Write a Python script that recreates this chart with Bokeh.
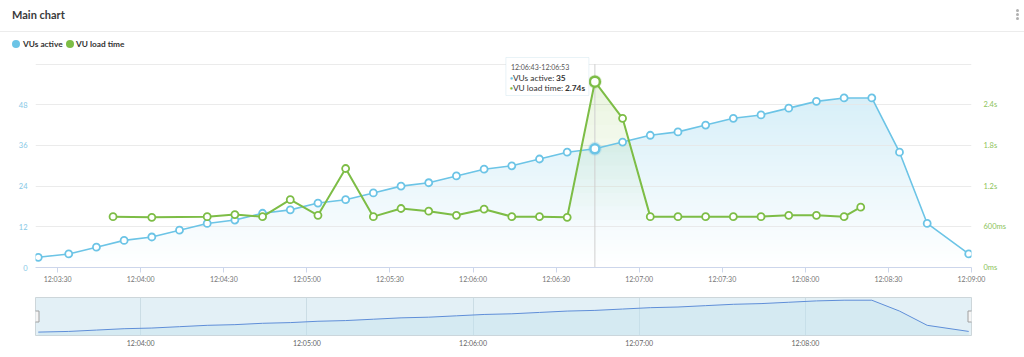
import numpy as np
import pandas as pd
from bokeh.plotting import figure
from bokeh.models import (Range1d, LinearAxis, FixedTicker, DatetimeTickFormatter,
                          Div, Label, BoxAnnotation)
from bokeh.layouts import column
from bokeh.embed import file_html
from bokeh.resources import INLINE

# ---------------- data ----------------
DAY = "2024-05-01 "

vus_times = ["12:03:23", "12:03:34", "12:03:44", "12:03:54", "12:04:04", "12:04:14", "12:04:24",
             "12:04:34", "12:04:44", "12:04:54", "12:05:04", "12:05:14", "12:05:24", "12:05:34",
             "12:05:44", "12:05:54", "12:06:04", "12:06:14", "12:06:24", "12:06:34", "12:06:44",
             "12:06:54", "12:07:04", "12:07:14", "12:07:24", "12:07:34", "12:07:44", "12:07:54",
             "12:08:04", "12:08:14", "12:08:24", "12:08:34", "12:08:44", "12:08:59"]
vus_active = [3, 4, 6, 8, 9, 11, 13, 14, 16, 17, 19, 20, 22, 24, 25, 27, 29, 30, 32, 34, 35,
              37, 39, 40, 42, 44, 45, 47, 49, 50, 50, 34, 13, 4]

load_times = ["12:03:50", "12:04:04", "12:04:24", "12:04:34", "12:04:44", "12:04:54", "12:05:04",
              "12:05:14", "12:05:24", "12:05:34", "12:05:44", "12:05:54", "12:06:04", "12:06:14",
              "12:06:24", "12:06:34", "12:06:44", "12:06:54", "12:07:04", "12:07:14", "12:07:24",
              "12:07:34", "12:07:44", "12:07:54", "12:08:04", "12:08:14", "12:08:20"]
load_ms = [750, 740, 750, 780, 750, 1000, 770, 1460, 750, 870, 830, 770, 860, 750, 750, 740,
           2740, 2200, 750, 750, 750, 750, 750, 770, 770, 750, 890]

x_start, x_end = "12:03:22", "12:09:00"
main_ticks = ["12:03:30", "12:04:00", "12:04:30", "12:05:00", "12:05:30", "12:06:00",
              "12:06:30", "12:07:00", "12:07:30", "12:08:00", "12:08:30", "12:09:00"]
nav_ticks = ["12:04:00", "12:05:00", "12:06:00", "12:07:00", "12:08:00"]
left_ticks = [0, 12, 24, 36, 48]
grid_ticks = [12, 24, 36, 48, 60]
right_ticks = [0, 600, 1200, 1800, 2400]
right_tick_labels = ["0ms", "600ms", "1.2s", "1.8s", "2.4s"]

hover_time = "12:06:44"
tooltip_title = "12:06:43-12:06:53"
tooltip_vus = "35"
tooltip_load = "2.74s"

BLUE = "#6cc4e6"
GREEN = "#7dbd46"
FONT = "Lato"


def ms(t):
    return pd.Timestamp(DAY + t).value / 1e6


vx = np.array([ms(t) for t in vus_times])
vy = np.array(vus_active, dtype=float)
gx = np.array([ms(t) for t in load_times])
gy = np.array(load_ms, dtype=float)
x0, x1 = ms(x_start), ms(x_end)

# page geometry of main frame
FL, FR, FT, FB = 35, 971, 50, 267
Y_TOP = 64.0
MS_PER_UNIT = 50.0


def px_x(px):
    return x0 + (px - FL) * (x1 - x0) / (FR - FL)


def x_px(x):
    return FL + (x - x0) * (FR - FL) / (x1 - x0)


def px_y(py):
    return (FB - py) * Y_TOP / (FB - FT)


def with_crossings(xs, ys, levels):
    ox, oy = [xs[0]], [ys[0]]
    for i in range(len(xs) - 1):
        xa, ya, xb, yb = xs[i], ys[i], xs[i + 1], ys[i + 1]
        ts = sorted((L - ya) / (yb - ya) for L in levels if (ya - L) * (yb - L) < 0)
        for t in ts:
            ox.append(xa + t * (xb - xa))
            oy.append(ya + t * (yb - ya))
        ox.append(xb)
        oy.append(yb)
    return np.array(ox), np.array(oy)


def mix(rgb, a):
    r, g, b = (int(round(255 * (1 - a) + c * a)) for c in rgb)
    return f"#{r:02x}{g:02x}{b:02x}"


def opaque_gradient(fig, xs, ys, top, step, base_rgb, amax):
    # bands drawn from the top down, each covering everything below its top edge
    tops = list(np.arange(step, top + step, step))
    ax, ay = with_crossings(xs, ys, tops)
    for T in reversed(tops):
        a = amax * (T - step / 2) / top
        fig.varea(x=ax, y1=0, y2=np.minimum(ay, T), fill_color=mix(base_rgb, a), fill_alpha=1.0)


def layered_gradient(fig, xs, ys, levels, color, alpha, **kw):
    ax, ay = with_crossings(xs, ys, levels)
    for L in levels:
        fig.varea(x=ax, y1=np.minimum(ay, L), y2=ay, fill_color=color, fill_alpha=alpha, **kw)


dt_fmt = DatetimeTickFormatter(seconds="%H:%M:%S", minsec="%H:%M:%S", minutes="%H:%M:%S",
                               hourmin="%H:%M:%S", hours="%H:%M:%S", milliseconds="%H:%M:%S",
                               context=None)

# ---------------- header ----------------
header_html = f"""
<div style="position:relative;width:1024px;height:50px;font-family:{FONT},sans-serif;overflow:hidden;">
  <div style="position:absolute;left:12px;top:7px;font-size:11px;font-weight:bold;color:#3a3a3a;">Main chart</div>
  <div style="position:absolute;left:0px;top:31px;width:1024px;height:1px;background:#ececec;"></div>
  <div style="position:absolute;left:1016px;top:9px;width:3px;height:3px;border-radius:50%;background:#b0b0b0;"></div>
  <div style="position:absolute;left:1016px;top:13px;width:3px;height:3px;border-radius:50%;background:#b0b0b0;"></div>
  <div style="position:absolute;left:1016px;top:17px;width:3px;height:3px;border-radius:50%;background:#b0b0b0;"></div>
  <div style="position:absolute;left:12px;top:40px;width:8px;height:8px;border-radius:50%;background:{BLUE};"></div>
  <div style="position:absolute;left:23px;top:38.5px;font-size:8.3px;font-weight:bold;color:#333;">VUs active</div>
  <div style="position:absolute;left:66px;top:40px;width:8px;height:8px;border-radius:50%;background:{GREEN};"></div>
  <div style="position:absolute;left:76px;top:38.5px;font-size:8.3px;font-weight:bold;color:#333;">VU load time</div>
</div>
"""
header = Div(text=header_html, width=1024, height=50, margin=(0, 0, 0, 0))

# ---------------- main chart ----------------
p = figure(width=1024, height=240, x_axis_type="datetime",
           x_range=Range1d(x0, x1), y_range=Range1d(0, Y_TOP),
           output_backend="svg", toolbar_location=None,
           min_border_left=FL, min_border_right=1024 - FR, min_border_top=0, min_border_bottom=23,
           outline_line_color=None, margin=(0, 0, 0, 0))
p.xgrid.visible = False
p.ygrid.visible = False

p.yaxis.ticker = FixedTicker(ticks=left_ticks)
p.yaxis.axis_line_color = None
p.yaxis.major_tick_line_color = None
p.yaxis.minor_tick_line_color = None
p.yaxis.major_tick_out = 0
p.yaxis.major_label_text_color = "#86c8e6"
p.yaxis.major_label_text_font = FONT
p.yaxis.major_label_text_font_size = "7.5px"
p.yaxis.major_label_standoff = 8

p.xaxis.ticker = FixedTicker(ticks=[ms(t) for t in main_ticks])
p.xaxis.formatter = dt_fmt
p.xaxis.axis_line_color = "#ccd6eb"
p.xaxis.major_tick_line_color = "#ccd6eb"
p.xaxis.major_tick_out = 5
p.xaxis.major_tick_in = 0
p.xaxis.minor_tick_line_color = None
p.xaxis.major_label_text_color = "#777777"
p.xaxis.major_label_text_font = FONT
p.xaxis.major_label_text_font_size = "7px"
p.xaxis.major_label_standoff = 2

p.extra_y_ranges = {"ms": Range1d(0, Y_TOP * MS_PER_UNIT)}
rax = LinearAxis(y_range_name="ms", ticker=FixedTicker(ticks=right_ticks),
                 major_label_overrides=dict(zip(right_ticks, right_tick_labels)))
rax.axis_line_color = None
rax.major_tick_line_color = None
rax.minor_tick_line_color = None
rax.major_tick_out = 0
rax.major_label_text_color = "#8cc35a"
rax.major_label_text_font = FONT
rax.major_label_text_font_size = "7.5px"
rax.major_label_standoff = 12
p.add_layout(rax, "right")

# gradient fills
opaque_gradient(p, vx, vy, max(vus_active), 1.0, (108, 196, 230), 0.27)
p.hspan(y=grid_ticks, line_color="#e6e6e6", line_width=1, line_alpha=0.8)
hi = load_times.index(hover_time)
layered_gradient(p, gx[hi - 1:hi + 3], gy[hi - 1:hi + 3], list(np.arange(700, 2740, 200)),
                 "#92cc4e", 0.018, y_range_name="ms")

# crosshair
hx = ms(hover_time)
p.segment(x0=[hx], y0=[0], x1=[hx], y1=[grid_ticks[-1]], line_color="#cfcfcf", line_width=1)

# series
p.line(vx, vy, line_color=BLUE, line_width=1.6)
p.scatter(vx, vy, marker="circle", size=7, fill_color="white", line_color=BLUE, line_width=1.8)
p.line(gx, gy, line_color=GREEN, line_width=2, y_range_name="ms")
p.scatter(gx, gy, marker="circle", size=7, fill_color="white", line_color=GREEN, line_width=1.8,
          y_range_name="ms")

# hovered markers
bi = vus_times.index(hover_time)
p.scatter([vx[bi]], [vy[bi]], marker="circle", size=14, fill_color=BLUE, fill_alpha=0.25,
          line_color=None)
p.scatter([vx[bi]], [vy[bi]], marker="circle", size=9, fill_color="white", line_color=BLUE,
          line_width=2.5)
p.scatter([gx[hi]], [gy[hi]], marker="circle", size=14, fill_color=GREEN, fill_alpha=0.25,
          line_color=None, y_range_name="ms")
p.scatter([gx[hi]], [gy[hi]], marker="circle", size=10, fill_color="white", line_color=GREEN,
          line_width=2.5, y_range_name="ms")

# tooltip
hpx = x_px(hx)
p.add_layout(BoxAnnotation(left=px_x(hpx - 89), right=px_x(hpx - 6), top=px_y(57), bottom=px_y(95),
                           fill_color="white", fill_alpha=1.0, line_color="#b7d6e6", line_width=1))


def tip(text, px, py, size="8.4px", color="#333333", style="normal"):
    p.add_layout(Label(x=px_x(px), y=px_y(py), text=text, text_font=FONT, text_font_size=size,
                       text_color=color, text_font_style=style, text_baseline="middle",
                       text_align="left"))


tip(tooltip_title, hpx - 84, 66.5, size="7px", color="#555555")
tip("\u25cf", hpx - 85, 77, size="5px", color=BLUE)
tip("VUs active:", hpx - 82, 77)
tip(tooltip_vus, hpx - 39, 77, style="bold")
tip("\u25cf", hpx - 85, 87, size="5px", color=GREEN)
tip("VU load time:", hpx - 82, 87)
tip(tooltip_load, hpx - 30, 87, style="bold")

# ---------------- navigator ----------------
n = figure(width=1024, height=67, x_axis_type="datetime",
           x_range=Range1d(x0, x1), y_range=Range1d(-2, 54),
           output_backend="svg", toolbar_location=None,
           min_border_left=FL, min_border_right=1024 - FR, min_border_top=7, min_border_bottom=22,
           background_fill_color="#e3f0f6", outline_line_color="#cdd6da", margin=(0, 0, 0, 0))
n.yaxis.visible = False
n.ygrid.visible = False
n.xgrid.ticker = FixedTicker(ticks=[ms(t) for t in nav_ticks])
n.xgrid.grid_line_color = "#cbdde5"
n.xaxis.ticker = FixedTicker(ticks=[ms(t) for t in nav_ticks])
n.xaxis.formatter = dt_fmt
n.xaxis.axis_line_color = None
n.xaxis.major_tick_line_color = None
n.xaxis.minor_tick_line_color = None
n.xaxis.major_tick_out = 0
n.xaxis.major_tick_in = 0
n.xaxis.major_label_text_color = "#666666"
n.xaxis.major_label_text_font = FONT
n.xaxis.major_label_text_font_size = "7px"
n.xaxis.major_label_standoff = 3

n.varea(x=vx, y1=-2, y2=vy, fill_color="#c4e2ee", fill_alpha=0.45)
n.line(vx, vy, line_color="#5f8ed8", line_width=1)
n.rect(x=[x0, x1], y=[26, 26], width=7, height=11, width_units="screen", height_units="screen",
       fill_color="#f5f5f5", line_color="#a0a0a0", line_width=1)

layout = column(header, p, n, spacing=0, margin=(0, 0, 0, 0))
open("out.html", "w").write(file_html(layout, INLINE))
